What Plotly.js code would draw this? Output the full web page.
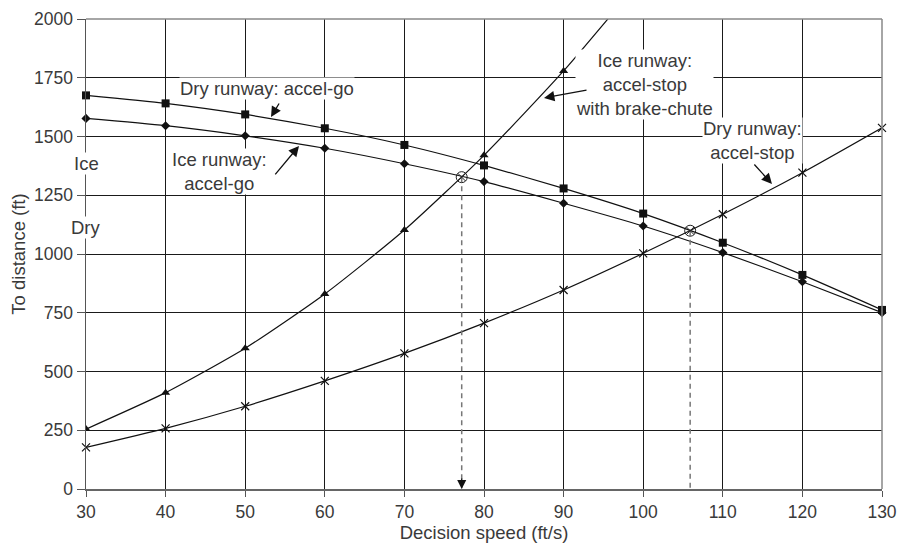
<!DOCTYPE html>
<html>
<head>
<meta charset="utf-8">
<script src="https://cdn.plot.ly/plotly-3.0.1.min.js"></script>
<style>html,body{margin:0;padding:0;background:#fff;}#chart{width:900px;height:543px;}</style>
</head>
<body>
<div id="chart"></div>
<script>
// Decision speed (ft/s)
var speeds = [30, 40, 50, 60, 70, 80, 90, 100, 110, 120, 130];
// Dry runway: accel-go (squares)
var dryAccelGo = [1675, 1641, 1594, 1535, 1464, 1377, 1279, 1172, 1048, 911, 762];
// Ice runway: accel-go (diamonds)
var iceAccelGo = [1577, 1546, 1503, 1450, 1384, 1308, 1216, 1119, 1006, 882, 750];
// Ice runway: accel-stop with brake-chute (triangles) - last point beyond top of chart
var iceAccelStop = [255, 410, 599, 830, 1102, 1420, 1779, 2180];
var iceStopSpeeds = [30, 40, 50, 60, 70, 80, 90, 100];
// Dry runway: accel-stop (crosses)
var dryAccelStop = [177, 258, 352, 460, 577, 706, 847, 1003, 1169, 1346, 1537];
// Balanced field intersections
var crossSpeeds = [77.2, 105.9];
var crossDist = [1327, 1099];

var txt = '#3a3a3a';
var tickFnt = {family: 'Liberation Sans, Arial, sans-serif', size: 17.5, color: txt};
var fnt = {family: 'Liberation Sans, Arial, sans-serif', size: 18.5, color: txt};

var traces = [
  {x: speeds, y: dryAccelGo, mode: 'lines+markers', line: {color: '#111', width: 1.2, shape: 'spline', smoothing: 0.6},
   marker: {symbol: 'square', size: 8, color: '#111'}, cliponaxis: false},
  {x: speeds, y: iceAccelGo, mode: 'lines+markers', line: {color: '#111', width: 1.2, shape: 'spline', smoothing: 0.6},
   marker: {symbol: 'diamond', size: 7, color: '#111'}, cliponaxis: false},
  {x: iceStopSpeeds, y: iceAccelStop, mode: 'lines+markers', line: {color: '#111', width: 1.2, shape: 'spline', smoothing: 0.6},
   marker: {symbol: 'triangle-up', size: 8, color: '#111'}, cliponaxis: true},
  {x: speeds, y: dryAccelStop, mode: 'lines+markers', line: {color: '#111', width: 1.2, shape: 'spline', smoothing: 0.6},
   marker: {symbol: 'x-thin', size: 8, line: {color: '#111', width: 1.2}}, cliponaxis: false},
  {x: [crossSpeeds[0], crossSpeeds[0]], y: [crossDist[0], 0], mode: 'lines', line: {color: '#777', width: 1.5, dash: '5px,4px'}},
  {x: [crossSpeeds[1], crossSpeeds[1]], y: [crossDist[1], 0], mode: 'lines', line: {color: '#777', width: 1.5, dash: '5px,4px'}},
  {x: crossSpeeds, y: crossDist, mode: 'markers', marker: {symbol: 'circle-x-open', size: 11, color: '#222', line: {width: 1}}}
];

function lab(x, y, t) {
  return {x: x, y: y, xref: 'x', yref: 'y', text: t, showarrow: false, font: fnt, bgcolor: '#fff', borderpad: 0};
}
function arr(x, y, ax, ay) {
  return {x: x, y: y, xref: 'x', yref: 'y', ax: ax, ay: ay, text: '', showarrow: true,
    arrowhead: 2, arrowsize: 1.6, arrowwidth: 1.3, arrowcolor: '#111'};
}

var layout = {
  width: 900, height: 543,
  margin: {l: 86, r: 18, t: 19, b: 54},
  paper_bgcolor: '#fff', plot_bgcolor: '#fff',
  showlegend: false,
  font: fnt,
  xaxis: {
    range: [30, 130], dtick: 10, tick0: 30, showgrid: true, gridcolor: '#1a1a1a', gridwidth: 1,
    zeroline: false, showline: true, linecolor: '#666', linewidth: 2, mirror: false,
    ticks: 'outside', ticklen: 6, tickcolor: '#555', tickfont: tickFnt,
    title: {text: 'Decision speed (ft/s)', font: fnt, standoff: 3}
  },
  yaxis: {
    range: [0, 2000], dtick: 250, tick0: 0, showgrid: true, gridcolor: '#1a1a1a', gridwidth: 1,
    zeroline: false, showline: true, linecolor: '#555', linewidth: 1.5,
    ticks: 'outside', ticklen: 8, tickcolor: '#555', tickfont: tickFnt,
    title: {text: 'To distance (ft)', font: fnt, standoff: 3}
  },
  shapes: [
    {type: 'line', xref: 'paper', yref: 'paper', x0: 0, x1: 1, y0: 1, y1: 1, line: {color: '#888', width: 1.5}},
    {type: 'line', xref: 'paper', yref: 'paper', x0: 1, x1: 1, y0: 0, y1: 1, line: {color: '#888', width: 1.5}}
  ],
  annotations: [
    lab(52.74, 1706, 'Dry runway: accel-go'),
    lab(46.83, 1349, 'Ice runway:<br>accel-go'),
    lab(100.1, 1723, 'Ice runway:<br>accel-stop<br>with brake-chute'),
    lab(113.67, 1485, 'Dry runway:<br>accel-stop'),
    lab(30, 1387, 'Ice'),
    lab(30, 1111, 'Dry'),
    arr(53.24, 1583, 9, -15),
    arr(56.76, 1460, -25, 30),
    arr(87.54, 1664, 44, -8),
    arr(116.18, 1298, -19, -21),
    {x: crossSpeeds[0], y: 0, xref: 'x', yref: 'y', ax: 0, ay: -12, text: '', showarrow: true,
     arrowhead: 2, arrowsize: 1.4, arrowwidth: 1.3, arrowcolor: '#111'}
  ]
};

Plotly.newPlot('chart', traces, layout, {displayModeBar: false, staticPlot: true});
</script>
</body>
</html>
